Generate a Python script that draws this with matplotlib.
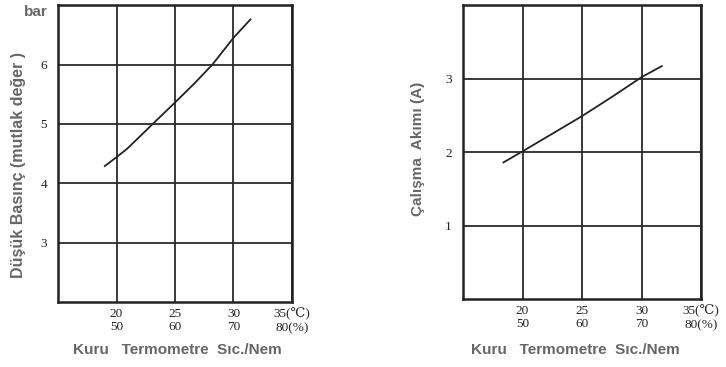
import matplotlib
matplotlib.use('Agg')
import matplotlib.pyplot as plt

# left chart: low pressure vs dry bulb temp / humidity
temp1 = [19.0, 20, 20.9, 21.9, 23.1, 25, 26.6, 28.2, 30, 31.45]
press1 = [4.29, 4.44, 4.58, 4.77, 5.0, 5.36, 5.67, 6.0, 6.45, 6.76]

# right chart: working current
temp2 = [18.4, 20, 22.5, 25, 27.5, 30, 31.7]
amp2 = [1.86, 2.01, 2.25, 2.49, 2.75, 3.02, 3.17]

xticks = [20, 25, 30, 35]
xticklabels = ['20\n50', '25\n60', '30\n70', '35(\u2103)\n80(%)']
yticks1 = [3, 4, 5, 6]
yticks2 = [1, 2, 3]

serif = ['Liberation Serif', 'DejaVu Serif']
label_kw = dict(family='Liberation Sans', fontweight='bold', color='#666666')

fig = plt.figure(figsize=(7.26, 3.67), dpi=100)
ax1 = fig.add_axes([0.0799, 0.177, 0.3223, 0.809])
ax2 = fig.add_axes([0.6377, 0.185, 0.328, 0.801])


def setup(ax, yticks, ylim):
    ax.set_xlim(15, 35)
    ax.set_ylim(*ylim)
    ax.set_xticks(xticks)
    ax.set_xticklabels(xticklabels, family=serif, fontsize=9.5, linespacing=1.2)
    ax.set_yticks(yticks)
    ax.set_yticklabels([str(v) for v in yticks], family=serif, fontsize=9.5)
    ax.tick_params(length=0, pad=4, colors='#222222')
    ax.tick_params(axis='y', pad=8)
    ax.grid(True, color='#2a2a2a', linewidth=1.3)
    for s in ax.spines.values():
        s.set_linewidth(1.8)
        s.set_color('#222222')


setup(ax1, yticks1, (2, 7))
ax1.plot(temp1, press1, color='#222222', linewidth=1.3)
setup(ax2, yticks2, (0, 4))
ax2.plot(temp2, amp2, color='#222222', linewidth=1.3)

fig.text(0.025, 0.55, 'Düşük Basınç (mutlak değer )', rotation=90, ha='center', va='center',
         fontsize=11.5, **label_kw)
fig.text(0.049, 0.967, 'bar', ha='center', va='center', fontsize=11, **label_kw)
fig.text(0.576, 0.595, 'Çalışma  Akımı (A)', rotation=90, ha='center', va='center',
         fontsize=11, **label_kw)
fig.text(0.245, 0.046, 'Kuru   Termometre  Sıc./Nem', ha='center', va='center',
         fontsize=11, **label_kw)
fig.text(0.792, 0.046, 'Kuru   Termometre  Sıc./Nem', ha='center', va='center',
         fontsize=11, **label_kw)

fig.savefig('out.png', dpi=100, facecolor='white')
